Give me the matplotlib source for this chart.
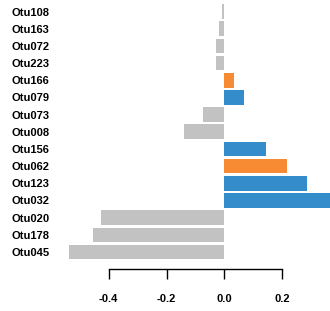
import numpy as np
import matplotlib.pyplot as plt
import matplotlib as mpl

mpl.rcParams['font.family'] = 'Liberation Sans'
mpl.rcParams['font.size'] = 8
mpl.rcParams['font.weight'] = 'bold'

# Datos (de arriba hacia abajo)
otus = ['Otu108', 'Otu163', 'Otu072', 'Otu223', 'Otu166', 'Otu079', 'Otu073', 'Otu008',
        'Otu156', 'Otu062', 'Otu123', 'Otu032', 'Otu020', 'Otu178', 'Otu045']
values = [-0.009, -0.018, -0.029, -0.029, 0.032, 0.067, -0.074, -0.14,
          0.144, 0.216, 0.285, 0.38, -0.425, -0.453, -0.536]
groups = ['none', 'none', 'none', 'none', 'orange', 'blue', 'none', 'none',
          'blue', 'orange', 'blue', 'blue', 'none', 'none', 'none']

colors = {'none': '#C2C2C2', 'orange': '#F68B33', 'blue': '#348CCB'}

fig = plt.figure(figsize=(3.3, 3.11), dpi=100)
ax = fig.add_axes([62 / 330, 0.1344, 268 / 330, 0.8617])

ypos = np.arange(len(otus))[::-1]
ax.barh(ypos, values, height=0.855, color=[colors[g] for g in groups])

ax.set_xlim(-0.5605, 0.364)
ax.set_ylim(-1, 14.6)

ax.set_yticks(ypos)
ax.set_yticklabels(otus)
ax.tick_params(axis='y', length=0, pad=36)
for lab in ax.get_yticklabels():
    lab.set_horizontalalignment('left')

ax.set_xticks([-0.4, -0.2, 0.0, 0.2])
ax.set_xticklabels(['-0.4', '-0.2', '0.0', '0.2'])
ax.tick_params(axis='x', length=7.2, width=1, pad=11)

for s in ['top', 'right', 'left']:
    ax.spines[s].set_visible(False)
ax.spines['bottom'].set_bounds(-0.4, 0.2)
ax.spines['bottom'].set_linewidth(1)

fig.savefig('out.png', dpi=100)
